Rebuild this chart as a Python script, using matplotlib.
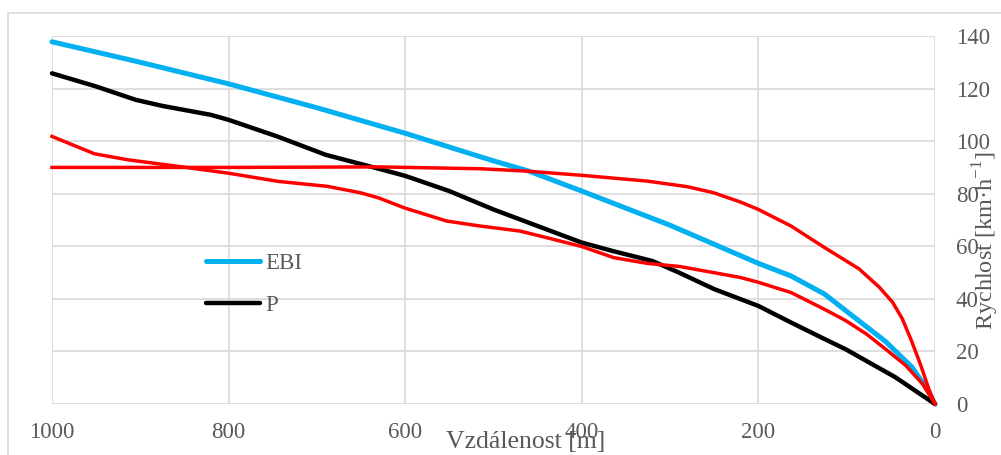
import numpy as np
import matplotlib.pyplot as plt
from matplotlib.patches import Rectangle

plt.rcParams['font.family'] = ['Liberation Serif', 'DejaVu Serif']
plt.rcParams['mathtext.fontset'] = 'custom'
plt.rcParams['mathtext.rm'] = 'Liberation Serif'

# EBI curve
ebi_dist = [1000, 900, 800, 700, 600, 500, 460, 400, 300, 200, 163, 125, 101, 56, 26, 9, 0]
ebi_speed = [137.8, 130.0, 121.8, 112.7, 103.0, 92.5, 88.6, 81.0, 68.0, 53.5, 48.7, 41.8, 35.5, 23.8, 14.0, 5.7, 0]

# P curve
p_dist = [1000, 950, 905, 875, 820, 800, 745, 690, 630, 600, 550, 500, 450, 400, 365, 320, 290, 250, 200, 163, 125, 101, 45, 0]
p_speed = [125.8, 120.8, 115.7, 113.4, 110.0, 108.1, 101.8, 94.8, 89.5, 86.8, 81.0, 74.0, 67.7, 61.4, 58.2, 54.4, 50.0, 43.7, 37.3, 31.0, 24.7, 20.8, 10.2, 0]

# red curves (no legend entry)
r1_dist = [1000, 800, 630, 515, 462, 400, 326, 281, 251, 220, 200, 163, 125, 86, 63, 48, 37, 26, 16, 7, 0]
r1_speed = [90.0, 90.0, 90.2, 89.5, 88.6, 87.0, 84.8, 82.7, 80.4, 76.8, 74.0, 67.7, 59.5, 51.4, 44.4, 38.7, 32.4, 23.5, 14.6, 5.7, 0]

r2_dist = [1000, 952, 914, 857, 800, 744, 688, 650, 630, 600, 553, 515, 470, 440, 400, 364, 326, 289, 251, 220, 200, 163, 125, 101, 78, 56, 33, 14, 0]
r2_speed = [101.8, 95.2, 92.9, 90.4, 87.8, 84.7, 82.8, 80.3, 78.4, 74.5, 69.6, 67.7, 65.8, 63.3, 59.9, 55.7, 53.5, 52.3, 50.0, 48.1, 46.3, 42.4, 36.0, 31.7, 26.7, 20.9, 14.6, 7.6, 0]

x_ticks = [1000, 800, 600, 400, 200, 0]
y_ticks = [0, 20, 40, 60, 80, 100, 120, 140]

fig = plt.figure(figsize=(10.01, 4.55), dpi=100)
fig.patches.append(Rectangle((0.008, -0.1), 1.2, 1.071, transform=fig.transFigure,
                             fill=False, edgecolor='#D9D9D9', linewidth=1.2))
ax = fig.add_axes([52/1001, 1 - 404/455, (935 - 52)/1001, (404 - 36)/455])

ax.plot(ebi_dist, ebi_speed, color='#00B0F0', lw=3.6, label='EBI', clip_on=False,
        solid_capstyle='round', solid_joinstyle='round')
ax.plot(p_dist, p_speed, color='black', lw=3.2, label='P', clip_on=False,
        solid_capstyle='round', solid_joinstyle='round')
ax.plot(r1_dist, r1_speed, color='#FF0000', lw=2.5, clip_on=False, solid_joinstyle='round')
ax.plot(r2_dist, r2_speed, color='#FF0000', lw=2.5, clip_on=False, solid_joinstyle='round')

ax.set_xlim(1000, 0)
ax.set_ylim(0, 140)
ax.set_xticks(x_ticks)
ax.set_yticks(y_ticks)
ax.grid(True, color='#D9D9D9', lw=1.2)
ax.set_axisbelow(True)
for s in ax.spines.values():
    s.set_visible(False)
ax.yaxis.tick_right()
ax.tick_params(length=0, labelsize=16.5, labelcolor='#595959')
ax.tick_params(axis='x', pad=13)
ax.tick_params(axis='y', pad=15)

fig.text(526/1001, 1 - 442/455, 'Vzdálenost [m]', ha='center', va='center',
         fontsize=18.5, color='#595959')
fig.text(986/1001, 1 - 241/455, 'Rychlost [km·h$^{-1}$]', ha='center', va='center',
         rotation=90, fontsize=17.5, color='#595959')

ax.legend(loc='upper left', bbox_to_anchor=(206/1001, 1 - 253/455),
          bbox_transform=fig.transFigure, frameon=False, fontsize=16.5,
          handlelength=2.36, handletextpad=0.22, labelspacing=0.92,
          labelcolor='#595959', borderpad=0, borderaxespad=0)

fig.savefig('out.png', dpi=100)
